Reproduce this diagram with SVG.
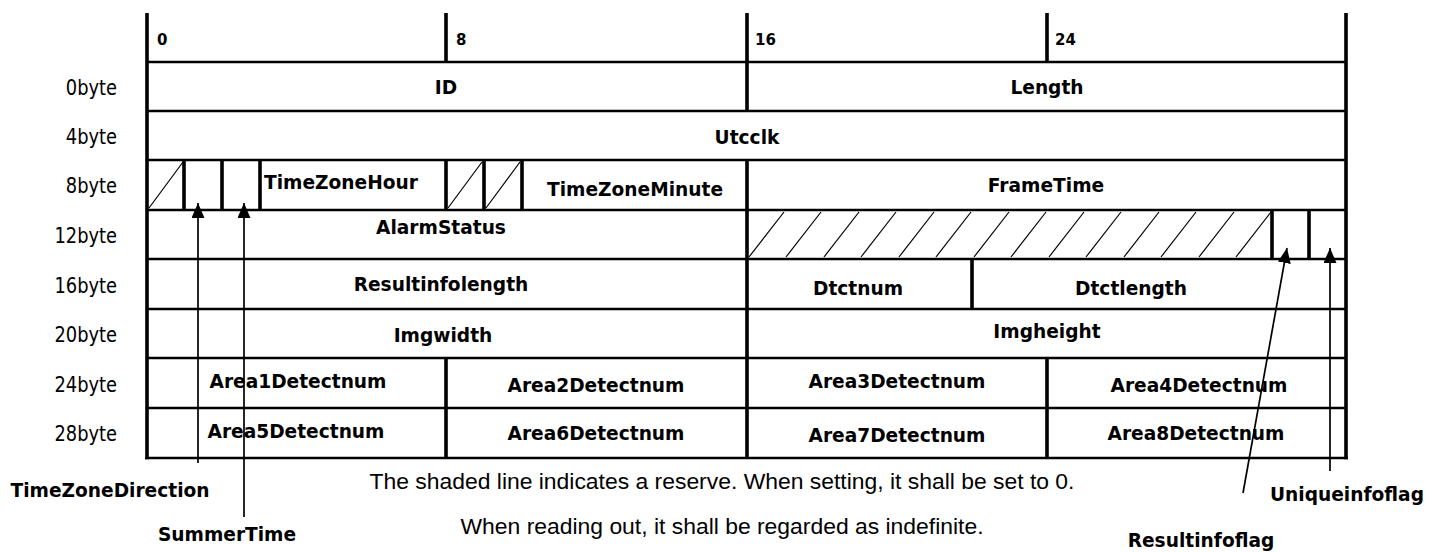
<svg xmlns="http://www.w3.org/2000/svg" width="1445" height="552" viewBox="0 0 1445 552">
<style>
.b{font-family:"DejaVu Sans",Verdana,sans-serif;font-weight:bold;font-size:18.6px;fill:#000;text-anchor:middle}
.h{font-family:"DejaVu Sans",Verdana,sans-serif;font-weight:bold;font-size:15px;fill:#000}
.r{font-family:"DejaVu Sans",Verdana,sans-serif;font-size:21.5px;fill:#000;text-anchor:end}
.d{font-family:"Liberation Sans",Arial,sans-serif;font-size:22.9px;fill:#000;text-anchor:middle}
.hl{stroke:#000;stroke-width:2.5;fill:none}
.vl{stroke:#000;stroke-width:3.6;fill:none}
.th{stroke:#000;stroke-width:1.2;fill:none}
.ar{stroke:#000;stroke-width:1.7;fill:none;marker-end:url(#ah)}
</style>
<defs>
<marker id="ah" markerUnits="userSpaceOnUse" markerWidth="15" markerHeight="13" refX="15" refY="6.5" orient="auto">
<path d="M0,0 L15,6.5 L0,13 z" fill="#000"/>
</marker>
</defs>
<rect width="1445" height="552" fill="#fff"/>
<g id="grid">
<path class="hl" d="M147,62H1346M147,111H1346M147,160H1346M147,210H1346M147,259H1346M147,309H1346M147,358H1346M147,408H1346M145,458H1348"/>
<path class="vl" d="M147,13V459.2M1346,13V459.2M446,13V62M747,13V62M1047,13V62M747,62V111"/>
<path class="vl" d="M184,160V210M222,160V210M260,160V210M446,160V210M484,160V210M522,160V210M747,160V210"/>
<path class="vl" d="M747,210V259M1272,210V259M1309,210V259"/>
<path class="vl" d="M747,259V309M972,259V309M747,309V358M446,358V458M747,358V458M1047,358V458"/>
<path class="th" d="M149,208L183,162M448,208L482,162M486,208L520,162"/>
<path class="th" d="M749,257L784,212M786,257L821,212M824,257L859,212M861,257L896,212M899,257L934,212M936,257L971,212M974,257L1009,212M1011,257L1046,212M1049,257L1084,212M1086,257L1121,212M1124,257L1159,212M1161,257L1196,212M1199,257L1234,212M1236,257L1271,212"/>
</g>
<g id="header">
<text class="h" x="157" y="45">0</text>
<text class="h" x="456" y="45">8</text>
<text class="h" x="755" y="45">16</text>
<text class="h" x="1055" y="45">24</text>
</g>
<g id="rowlabels" transform="translate(117,0) scale(0.83,1)">
<text class="r" x="0" y="95">0byte</text>
<text class="r" x="0" y="144">4byte</text>
<text class="r" x="0" y="193">8byte</text>
<text class="r" x="0" y="243">12byte</text>
<text class="r" x="0" y="293">16byte</text>
<text class="r" x="0" y="342">20byte</text>
<text class="r" x="0" y="392">24byte</text>
<text class="r" x="0" y="441">28byte</text>
</g>
<g id="ID"><text class="b" x="446" y="94">ID</text></g>
<g id="Length"><text class="b" x="1047" y="94">Length</text></g>
<g id="Utcclk"><text class="b" x="747" y="144">Utcclk</text></g>
<g id="TimeZoneHour"><text class="b" x="341" y="189">TimeZoneHour</text></g>
<g id="TimeZoneMinute"><text class="b" x="635" y="196">TimeZoneMinute</text></g>
<g id="FrameTime"><text class="b" x="1046" y="192">FrameTime</text></g>
<g id="AlarmStatus"><text class="b" x="441" y="234">AlarmStatus</text></g>
<g id="Resultinfolength"><text class="b" x="441" y="291">Resultinfolength</text></g>
<g id="Dtctnum"><text class="b" x="858" y="295">Dtctnum</text></g>
<g id="Dtctlength"><text class="b" x="1131" y="295">Dtctlength</text></g>
<g id="Imgwidth"><text class="b" x="443" y="342">Imgwidth</text></g>
<g id="Imgheight"><text class="b" x="1047" y="338">Imgheight</text></g>
<g id="Area1Detectnum"><text class="b" x="298" y="388">Area1Detectnum</text></g>
<g id="Area2Detectnum"><text class="b" x="596" y="392">Area2Detectnum</text></g>
<g id="Area3Detectnum"><text class="b" x="897" y="388">Area3Detectnum</text></g>
<g id="Area4Detectnum"><text class="b" x="1199" y="392">Area4Detectnum</text></g>
<g id="Area5Detectnum"><text class="b" x="296" y="438">Area5Detectnum</text></g>
<g id="Area6Detectnum"><text class="b" x="596" y="440">Area6Detectnum</text></g>
<g id="Area7Detectnum"><text class="b" x="897" y="442">Area7Detectnum</text></g>
<g id="Area8Detectnum"><text class="b" x="1196" y="440">Area8Detectnum</text></g>
<g id="connectors">
<line class="ar" x1="198" y1="463" x2="198" y2="203"/>
<line class="ar" x1="244" y1="517" x2="244" y2="203"/>
<line class="ar" x1="1243" y1="493" x2="1287" y2="248"/>
<line class="ar" x1="1330" y1="471" x2="1330" y2="248"/>
</g>
<g id="TimeZoneDirection"><text class="b" x="110" y="497">TimeZoneDirection</text></g>
<g id="SummerTime"><text class="b" x="227" y="541">SummerTime</text></g>
<g id="Uniqueinfoflag"><text class="b" x="1347" y="501">Uniqueinfoflag</text></g>
<g id="Resultinfoflag"><text class="b" x="1201" y="547">Resultinfoflag</text></g>
<g id="note">
<text class="d" x="722" y="489">The shaded line indicates a reserve. When setting, it shall be set to 0.</text>
<text class="d" x="722" y="534">When reading out, it shall be regarded as indefinite.</text>
</g>
</svg>
